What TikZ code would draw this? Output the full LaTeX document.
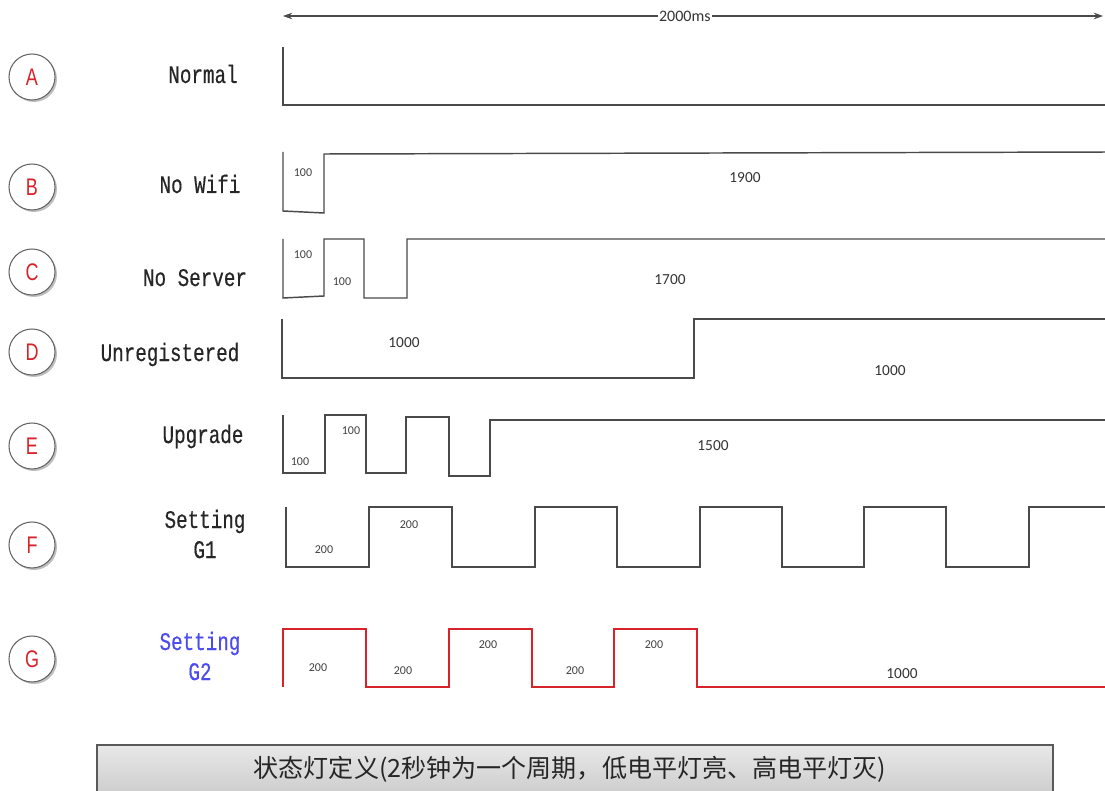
\documentclass[tikz,border=0pt]{standalone}
\usepackage{fontspec}
\setmainfont{Carlito}
\newfontfamily\labelfont[FakeStretch=0.76,FakeBold=0.4]{Liberation Mono}
\newfontfamily\circfont[FakeStretch=0.75]{Liberation Sans}
\newfontfamily\cjk{Noto Sans CJK SC}
\usetikzlibrary{arrows.meta,shadows}
\definecolor{wave}{HTML}{4A4A4A}
\definecolor{redwave}{HTML}{D8232A}
\definecolor{bluetext}{HTML}{4B4BF0}
\definecolor{circred}{HTML}{D8232A}
\begin{document}
\begin{tikzpicture}[x=0.75pt,y=-0.75pt,
  wavestyle/.style={draw=wave,line width=1.1pt,line join=miter},
  redstyle/.style={draw=redwave,line width=1.1pt,line join=miter},
  lbl/.style={font=\labelfont\fontsize{19}{22}\selectfont,text=black!85,inner sep=0pt,anchor=base},
  num/.style={font=\fontsize{9}{10}\selectfont,text=black!75,inner sep=0pt},
  bignum/.style={font=\fontsize{11.5}{13}\selectfont,text=black!80,inner sep=0pt},
  circ/.style={circle,draw=black!60,line width=0.8pt,fill=white,minimum size=34.5pt,inner sep=0pt,
    font=\circfont\fontsize{18}{20}\selectfont,text=circred,
    drop shadow={shadow xshift=1.5pt,shadow yshift=-1.5pt,opacity=0.25,fill=black}}]
\useasboundingbox (0,0) rectangle (1105,791);

% top arrow
\coordinate (tl) at (283,16);
\coordinate (tr) at (1103,16);
\draw[draw=wave,line width=0.8pt,{Stealth[length=7pt,width=5pt]}-{Stealth[length=7pt,width=5pt]}] (tl) -- (tr)
  node[pos=0.49,fill=white,inner sep=1pt,font=\fontsize{12}{14}\selectfont,text=black!80] (ms) {2000ms};

% circles
\node[circ] (cA) at (32,77) {A};
\node[circ] (cB) at (32,187) {B};
\node[circ] (cC) at (32,272) {C};
\node[circ] (cD) at (32,352) {D};
\node[circ] (cE) at (32,446) {E};
\node[circ] (cF) at (32,545) {F};
\node[circ] (cG) at (32,659) {G};

% labels
\node[lbl] (lA) at (203,83) {Normal};
\node[lbl] (lB) at (200,193) {No Wifi};
\node[lbl] (lC) at (195,286) {No Server};
\node[lbl] (lD) at (170,361) {Unregistered};
\node[lbl] (lE) at (203,443) {Upgrade};
\node[lbl] (lF1) at (205,528) {Setting};
\node[lbl] (lF2) at (205,558) {G1};
\node[lbl,text=bluetext] (lG1) at (200,650) {Setting};
\node[lbl,text=bluetext] (lG2) at (200,680) {G2};

% waveforms
\draw[wavestyle] (283,47) -- (283,105) -- (1110,105);
\draw[wavestyle] (283,152) -- (283,211) -- (324,213) -- (324,154) -- (1110,152);
\draw[wavestyle] (283,239) -- (283,298) -- (324,296) -- (324,239) -- (364,239) -- (364,298) -- (407,298) -- (407,239) -- (1110,239);
\draw[wavestyle] (282,319) -- (282,378) -- (694,378) -- (694,319) -- (1110,319);
\draw[wavestyle] (283,415) -- (283,473) -- (325,473) -- (325,415) -- (366,415) -- (366,473) -- (406,473) -- (406,417) -- (449,417) -- (449,476) -- (490,476) -- (490,420) -- (1110,420);
\draw[wavestyle] (286,507) -- (286,567) -- (369,567) -- (369,507) -- (452,507) -- (452,567) -- (535,567) -- (535,507) -- (617,507) -- (617,567) -- (700,567) -- (700,507) -- (782,507) -- (782,567) -- (864,567) -- (864,507) -- (946,507) -- (946,567) -- (1029,567) -- (1029,507) -- (1110,507);
\draw[redstyle] (283,687) -- (283,629) -- (366,629) -- (366,687) -- (449,687) -- (449,629) -- (532,629) -- (532,687) -- (614,687) -- (614,629) -- (697,629) -- (697,687) -- (1110,687);

% duration labels
\node[num] (nB) at (303,173) {100};
\node[num] (nC1) at (303,255) {100};
\node[num] (nC2) at (342,282) {100};
\node[bignum] (nB2) at (745,178) {1900};
\node[bignum] (nC3) at (670,280) {1700};
\node[bignum] (nD1) at (404,343) {1000};
\node[bignum] (nD2) at (890,371) {1000};
\node[num] (nE1) at (300,462) {100};
\node[num] (nE2) at (351,431) {100};
\node[bignum] (nE3) at (713,446) {1500};
\node[num] (nF1) at (324,550) {200};
\node[num] (nF2) at (409,525) {200};
\node[num] (nG1) at (318,668) {200};
\node[num] (nG2) at (403,671) {200};
\node[num] (nG3) at (488,645) {200};
\node[num] (nG4) at (575,671) {200};
\node[num] (nG5) at (654,645) {200};
\node[bignum] (nG6) at (902,674) {1000};

% bottom box
\draw[draw=black!65,line width=0.8pt,top color=black!9,bottom color=black!22] (97,745) rectangle (1053,805);
\node[font=\cjk\fontsize{18.8}{21}\selectfont,text=black!85,inner sep=0pt] (title) at (570,769) {状态灯定义(2秒钟为一个周期，低电平灯亮、高电平灯灭)};
\end{tikzpicture}
\end{document}
